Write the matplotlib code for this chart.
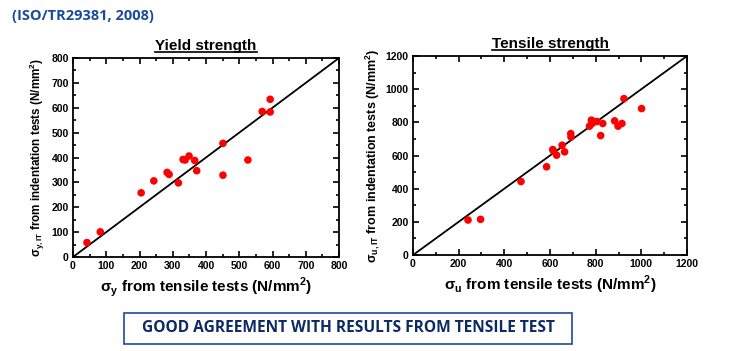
import numpy as np
import matplotlib.pyplot as plt
from matplotlib.ticker import MultipleLocator

plt.rcParams['font.family'] = ['Liberation Sans', 'DejaVu Sans']

# yield strength: tensile test vs indentation test (N/mm2)
yield_tensile = [42, 82, 205, 243, 283, 289, 317, 331, 337, 349, 366, 372,
                 451, 451, 526, 569, 593, 593]
yield_indent = [58, 101, 258, 306, 340, 332, 298, 392, 390, 406, 388, 347,
                457, 329, 390, 585, 634, 583]

# tensile strength
uts_tensile = [241, 296, 473, 585, 612, 615, 629, 653, 664, 691, 692, 773,
               781, 784, 790, 805, 831, 822, 883, 898, 915, 924, 1001]
uts_indent = [211, 215, 443, 532, 636, 628, 602, 662, 622, 732, 712, 777,
              813, 793, 805, 805, 793, 720, 809, 777, 793, 943, 883]

W, H = 744, 351
fig = plt.figure(figsize=(W/100, H/100), dpi=100)

def panel(box, x, y, lim, major, title, xlab, ylab, ysize):
  ax = fig.add_axes([box[0]/W, 1-box[3]/H, (box[2]-box[0])/W, (box[3]-box[1])/H])
  ax.plot([0, lim], [0, lim], color='black', lw=1.3, zorder=2)
  ax.scatter(x, y, s=30, color='#ff0000', edgecolors='none', zorder=3)
  ax.set_xlim(0, lim)
  ax.set_ylim(0, lim)
  ax.xaxis.set_major_locator(MultipleLocator(major))
  ax.yaxis.set_major_locator(MultipleLocator(major))
  ax.xaxis.set_minor_locator(MultipleLocator(major/2))
  ax.yaxis.set_minor_locator(MultipleLocator(major/2))
  ax.tick_params(which='both', direction='in', top=True, right=True, width=1.2)
  ax.tick_params(which='major', length=4, labelsize=7.5, pad=3)
  ax.tick_params(which='minor', length=2)
  for lb in ax.get_xticklabels() + ax.get_yticklabels():
    lb.set_fontweight('bold')
  for sp in ax.spines.values():
    sp.set_linewidth(1.3)
  ax.set_title(title, fontsize=11, fontweight='bold', pad=6)
  ax.set_xlabel(xlab, fontsize=11, fontweight='bold', labelpad=3)
  ax.set_ylabel(ylab, fontsize=ysize, fontweight='bold', labelpad=3)
  return ax

a1 = panel((73, 58, 339, 257), yield_tensile, yield_indent, 800, 100,
           'Yield strength',
           'σ$_\\mathregular{y}$ from tensile tests (N/mm$^\\mathregular{2}$)',
           'σ$_\\mathregular{y, IT}$ from indentation tests (N/mm$^\\mathregular{2}$)', 8.4)
a2 = panel((413, 56, 687, 255), uts_tensile, uts_indent, 1200, 200,
           'Tensile strength',
           'σ$_\\mathregular{u}$ from tensile tests (N/mm$^\\mathregular{2}$)',
           'σ$_\\mathregular{u,IT}$ from indentation tests (N/mm$^\\mathregular{2}$)', 9)

# underline the titles
fig.canvas.draw()
for ax in (a1, a2):
  bb = ax.title.get_window_extent()
  x0, x1 = bb.x0/W, bb.x1/W
  yl = (bb.y0 + 1)/H
  fig.add_artist(plt.Line2D([x0, x1], [yl, yl], color='black', lw=1.2))

fig.text(12/W, 1-16/H, '(ISO/TR29381, 2008)', fontsize=10.5, fontweight='bold',
         color='#1b4b9b', family=['Open Sans', 'DejaVu Sans'], va='center')

fig.text(348/W, 1-328/H, 'GOOD AGREEMENT WITH RESULTS FROM TENSILE TEST',
         fontsize=11.2, fontweight='bold', color='#0c2a66',
         family=['Open Sans', 'DejaVu Sans'], ha='center', va='center')
fig.add_artist(plt.Rectangle((124/W, 1-344/H), 448/W, 31/H, fill=False,
                             edgecolor='#1b4b9b', lw=1.2))

fig.savefig('out.png', dpi=100)
